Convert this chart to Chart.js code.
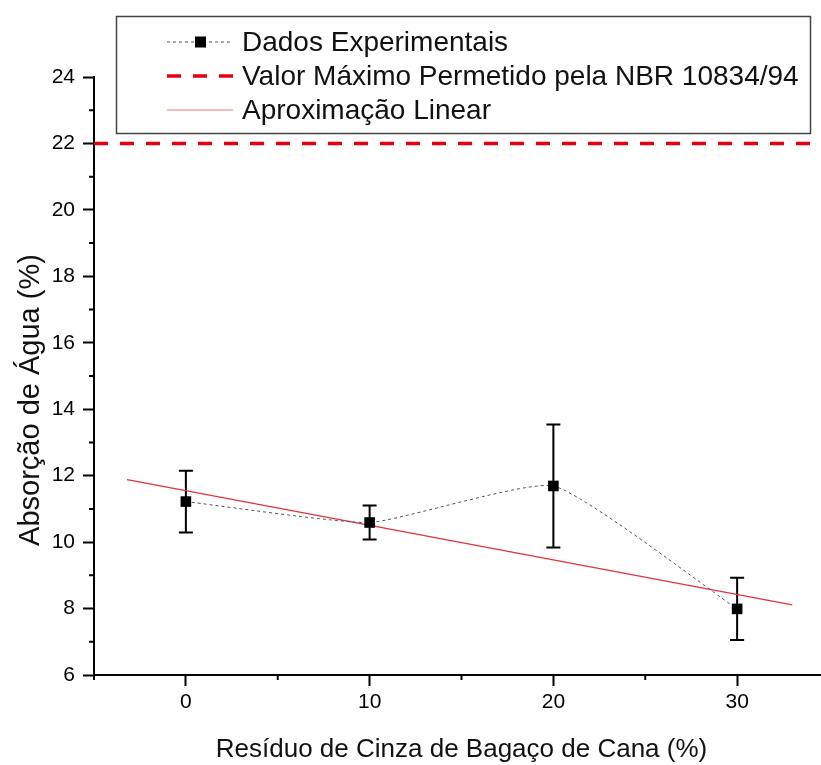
<!DOCTYPE html>
<html>
<head>
<meta charset="utf-8">
<script src="https://cdn.jsdelivr.net/npm/chart.js@4.4.1/dist/chart.umd.min.js"></script>
<style>
  html, body { margin: 0; padding: 0; background: #fff; overflow: hidden; }
  #wrap { width: 860px; height: 765px; }
</style>
</head>
<body>
<div id="wrap"><canvas id="c" width="860" height="765"></canvas></div>
<script>
// dados
const residuo = [0, 10, 20, 30];
const absorcao = [11.22, 10.59, 11.69, 7.99];
const desvio = [0.93, 0.51, 1.85, 0.94];
const ajusteX = [-3.2, 33.0];
const ajusteY = [11.88, 8.11];
const limiteX = [-5, 35];
const limiteY = [22, 22];
const legendLabels = [
  'Dados Experimentais',
  'Valor Máximo Permetido pela NBR 10834/94',
  'Aproximação Linear'
];
const yTitle = 'Absorção de Água (%)';
const xTitle = 'Resíduo de Cinza de Bagaço de Cana (%)';

const FONT = '"Liberation Sans", Arial, sans-serif';
const RED = '#e3000f';
const FIT = '#e2323c';

const pts = (xs, ys) => xs.map((v, i) => ({ x: v, y: ys[i] }));

const extras = {
  id: 'extras',
  beforeDatasetsDraw(chart) {
    const { ctx, scales: { x, y } } = chart;
    ctx.save();
    ctx.strokeStyle = '#000';
    ctx.lineWidth = 2;
    residuo.forEach((r, i) => {
      const px = x.getPixelForValue(r);
      const top = y.getPixelForValue(absorcao[i] + desvio[i]);
      const bot = y.getPixelForValue(absorcao[i] - desvio[i]);
      ctx.beginPath();
      ctx.moveTo(px, top); ctx.lineTo(px, bot);
      ctx.moveTo(px - 7, top); ctx.lineTo(px + 7, top);
      ctx.moveTo(px - 7, bot); ctx.lineTo(px + 7, bot);
      ctx.stroke();
    });
    ctx.restore();
  },
  afterDraw(chart) {
    const { ctx, chartArea: a, scales: { x, y } } = chart;
    ctx.save();
    // ticks menores
    ctx.strokeStyle = '#000';
    ctx.lineWidth = 2;
    ctx.beginPath();
    y.ticks.forEach((t) => {
      if (t.value % 2 !== 0) {
        const py = y.getPixelForValue(t.value);
        ctx.moveTo(a.left - 5, py); ctx.lineTo(a.left, py);
      }
    });
    x.ticks.forEach((t) => {
      if (t.value % 10 !== 0) {
        const px = x.getPixelForValue(t.value);
        ctx.moveTo(px, a.bottom); ctx.lineTo(px, a.bottom + 5);
      }
    });
    ctx.stroke();

    // título do eixo y
    ctx.save();
    ctx.translate(31, 400);
    ctx.rotate(-Math.PI / 2);
    ctx.fillStyle = '#111';
    ctx.font = '29px ' + FONT;
    ctx.textAlign = 'center';
    ctx.textBaseline = 'middle';
    ctx.fillText(yTitle, 0, 0);
    ctx.restore();

    // legenda
    ctx.fillStyle = '#fff';
    ctx.fillRect(116, 16, 694, 117);
    ctx.strokeStyle = '#444';
    ctx.lineWidth = 1.5;
    ctx.strokeRect(116.5, 16.5, 694, 117);

    const rows = [42, 76, 110];
    const x0 = 167, x1 = 233;

    ctx.strokeStyle = '#555';
    ctx.lineWidth = 1;
    ctx.setLineDash([3, 3]);
    ctx.beginPath(); ctx.moveTo(x0, rows[0]); ctx.lineTo(x1, rows[0]); ctx.stroke();
    ctx.setLineDash([]);
    ctx.fillStyle = '#000';
    ctx.fillRect(195, rows[0] - 5.5, 11, 11);

    ctx.strokeStyle = RED;
    ctx.lineWidth = 3.5;
    ctx.setLineDash([14, 12]);
    ctx.beginPath(); ctx.moveTo(x0, rows[1]); ctx.lineTo(x1 + 4, rows[1]); ctx.stroke();
    ctx.setLineDash([]);

    ctx.strokeStyle = '#ef7f85';
    ctx.lineWidth = 1.2;
    ctx.beginPath(); ctx.moveTo(x0, rows[2]); ctx.lineTo(x1, rows[2]); ctx.stroke();

    ctx.fillStyle = '#111';
    ctx.font = '28px ' + FONT;
    ctx.textBaseline = 'middle';
    ctx.textAlign = 'left';
    legendLabels.forEach((t, i) => ctx.fillText(t, 242, rows[i] + 1));
    ctx.restore();
  }
};

new Chart(document.getElementById('c'), {
  type: 'line',
  data: {
    datasets: [
      {
        label: legendLabels[0],
        data: pts(residuo, absorcao),
        borderColor: '#555',
        borderWidth: 1,
        borderDash: [3, 3],
        tension: 0.15,
        pointStyle: 'rect',
        pointRadius: 7.5,
        pointBackgroundColor: '#000',
        pointBorderColor: '#000',
        pointBorderWidth: 0
      },
      {
        label: legendLabels[2],
        data: pts(ajusteX, ajusteY),
        borderColor: FIT,
        borderWidth: 1.2,
        pointRadius: 0
      },
      {
        label: legendLabels[1],
        data: pts(limiteX, limiteY),
        borderColor: RED,
        borderWidth: 3.5,
        borderDash: [14, 12],
        pointRadius: 0
      }
    ]
  },
  options: {
    responsive: false,
    animation: false,
    layout: { padding: { top: 77, right: 31, left: 0, bottom: 0 } },
    plugins: { legend: { display: false }, tooltip: { enabled: false } },
    scales: {
      x: {
        type: 'linear',
        min: -5,
        max: 35,
        afterFit: (s) => { s.height = 90; },
        border: { color: '#000', width: 2 },
        grid: {
          drawOnChartArea: false,
          tickLength: 11,
          tickWidth: 2,
          tickColor: (c) => (c.tick && c.tick.value % 10 === 0 ? '#000' : 'rgba(0,0,0,0)')
        },
        ticks: {
          stepSize: 5,
          padding: 4,
          color: '#000',
          font: { family: FONT, size: 21 },
          maxRotation: 0,
          autoSkip: false,
          callback: (v) => (v % 10 === 0 ? String(v) : '')
        },
        title: {
          display: true,
          text: xTitle,
          color: '#111',
          font: { family: FONT, size: 26 },
          padding: { top: 0, bottom: 0 }
        }
      },
      y: {
        min: 6,
        max: 24,
        afterFit: (s) => { s.width = 94; },
        border: { color: '#000', width: 2 },
        grid: {
          drawOnChartArea: false,
          tickLength: 11,
          tickWidth: 2,
          tickColor: (c) => (c.tick && c.tick.value % 2 === 0 ? '#000' : 'rgba(0,0,0,0)')
        },
        ticks: {
          stepSize: 1,
          padding: 8,
          color: '#000',
          font: { family: FONT, size: 21 },
          autoSkip: false,
          callback: (v) => (v % 2 === 0 ? String(v) : '')
        },
        title: { display: false }
      }
    }
  },
  plugins: [extras]
});
</script>
</body>
</html>
